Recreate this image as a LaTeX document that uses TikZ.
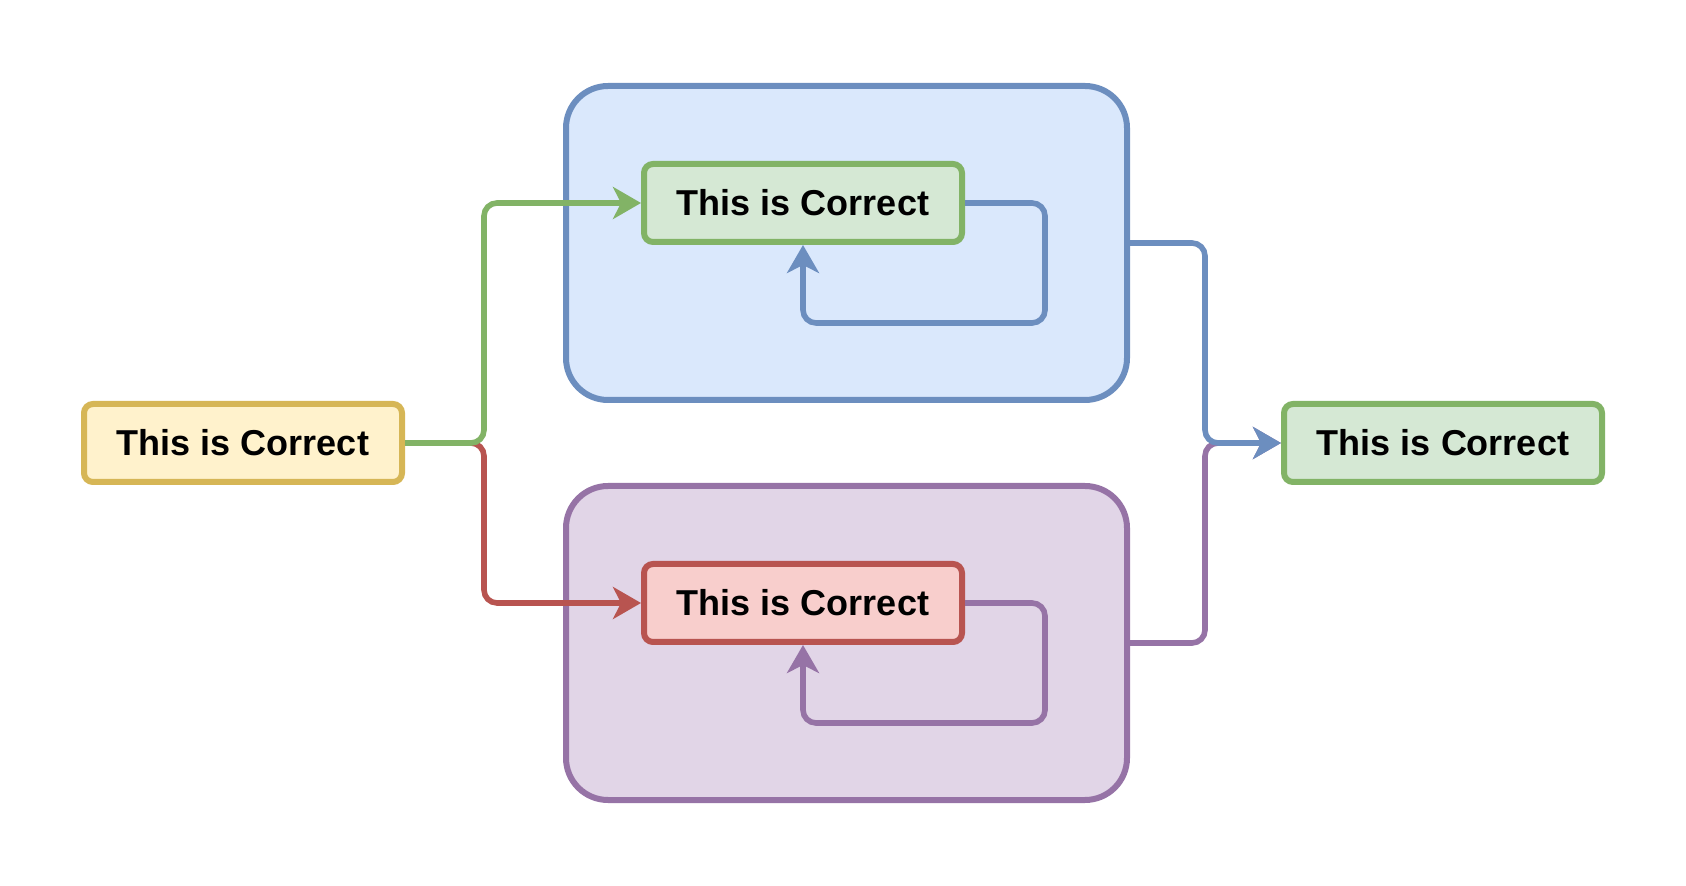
\documentclass[tikz,border=0pt]{standalone}
\usepackage{fontspec}
\setmainfont{Liberation Sans}
\usetikzlibrary{arrows.meta}
\definecolor{yelF}{HTML}{FFF2CC}\definecolor{yelD}{HTML}{D6B656}
\definecolor{grnF}{HTML}{D5E8D4}\definecolor{grnD}{HTML}{82B366}
\definecolor{bluF}{HTML}{DAE8FC}\definecolor{bluD}{HTML}{6C8EBF}
\definecolor{purF}{HTML}{E1D5E7}\definecolor{purD}{HTML}{9673A6}
\definecolor{redF}{HTML}{F8CECC}\definecolor{redD}{HTML}{B85450}
\tikzset{
  x=0.5pt, y=-0.5pt,
  box/.style={draw, line width=3pt, rounded corners=4.5pt,
    minimum width=159pt, minimum height=39pt, inner sep=0pt,
    font=\fontsize{18}{21}\selectfont\bfseries},
  container/.style={draw, line width=3pt, rounded corners=21pt,
    minimum width=280.5pt, minimum height=157pt, inner sep=0pt},
  conn/.style={line width=2.8pt, rounded corners=6.5pt},
  tipped/.style={-{Stealth[length=14pt, width=16pt, inset=4pt]}}
}
\begin{document}
\begin{tikzpicture}
\useasboundingbox (0,0) rectangle (1686,886);
% containers
\node[container, fill=bluF, draw=bluD] (bluC) at (846.5,243) {};
\node[container, fill=purF, draw=purD] (purC) at (846.5,643) {};
% boxes
\node[box, fill=yelF, draw=yelD] (yel) at (243,443) {This is Correct};
\node[box, fill=grnF, draw=grnD] (rgt) at (1443,443) {This is Correct};
\coordinate (jl) at (484,443);
\coordinate (jr) at (1205,443);
% inner boxes
\node[box, fill=grnF, draw=grnD] (gin) at (803,203) {This is Correct};
\node[box, fill=redF, draw=redD] (rin) at (803,603) {This is Correct};
% connectors from left
\draw[conn, tipped, color=redD] (yel.east) -- (jl) |- (rin.west);
\draw[conn, tipped, color=grnD] (yel.east) -- (jl) |- (gin.west);
% loops
\draw[conn, tipped, color=bluD] (gin.east) -- ++(80,0) -- ++(0,120) -| (gin.south);
\draw[conn, tipped, color=purD] (rin.east) -- ++(80,0) -- ++(0,120) -| (rin.south);
% right connectors
\draw[conn, tipped, color=purD] (purC.east) -| (jr) -- (rgt.west);
\draw[conn, tipped, color=bluD] (bluC.east) -| (jr) -- (rgt.west);
\end{tikzpicture}
\end{document}
